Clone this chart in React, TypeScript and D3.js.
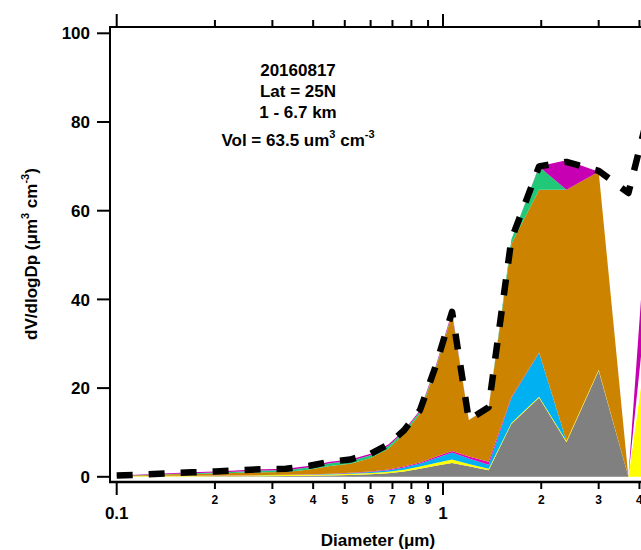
import React from 'react';
import * as d3 from 'd3';

// Particle diameters (µm) of the size-distribution bins
const diameters = [0.1, 0.12, 0.145, 0.17, 0.2, 0.24, 0.28, 0.33, 0.39, 0.45, 0.52, 0.6, 0.68, 0.76, 0.85, 0.95, 1.066, 1.2, 1.38, 1.62, 1.97, 2.39, 3.0, 3.7, 4.4];

// Stacked components dV/dlogDp (µm³ cm⁻³), bottom to top
const grayVals = [0.03, 0.05, 0.06, 0.08, 0.1, 0.12, 0.15, 0.18, 0.22, 0.28, 0.38, 0.55, 0.8, 1.2, 1.8, 2.5, 3.1, 2.4, 1.5, 11.9, 17.8, 7.8, 23.9, 0, 0];
const yellowVals = [0.1, 0.12, 0.15, 0.15, 0.15, 0.18, 0.2, 0.2, 0.22, 0.25, 0.28, 0.3, 0.35, 0.4, 0.5, 0.6, 0.8, 0.5, 0.3, 0.25, 0.25, 0.25, 0.25, 0, 40];
const blueVals = [0, 0, 0, 0, 0, 0.02, 0.03, 0.05, 0.07, 0.1, 0.15, 0.25, 0.35, 0.5, 0.7, 1.1, 1.6, 1.2, 0.9, 5.6, 9.9, 0, 0, 0, 0];
const magentaLowVals = [0, 0, 0, 0, 0.02, 0.03, 0.05, 0.05, 0.06, 0.08, 0.1, 0.12, 0.15, 0.2, 0.25, 0.3, 0.3, 0.5, 0.7, 0.2, 0.1, 0, 0, 0, 0];
const orangeVals = [0.1, 0.18, 0.34, 0.42, 0.48, 0.55, 0.62, 0.62, 1.08, 1.74, 2.04, 3.03, 4.7, 7.4, 11.05, 19.9, 30.8, 8.2, 12.1, 34.55, 36.65, 56.65, 44.65, 0, 0];
const greenVals = [0, 0.05, 0.1, 0.15, 0.2, 0.3, 0.35, 0.4, 0.5, 0.6, 0.6, 0.6, 0.6, 0.5, 0.4, 0.3, 0.2, 0, 0.1, 1.0, 5.2, 0, 0, 0, 0];
const unresolvedVals = [0, 0, 0, 0, 0, 0, 0, 0, 0, 0, 0, 0, 0, 0, 0, 0, 0, 0, 0, 0, 0, 0, 0, 0, 13];
const magentaTopVals = [0.07, 0.1, 0.15, 0.2, 0.25, 0.3, 0.3, 0.3, 0.35, 0.35, 0.35, 0.35, 0.35, 0.3, 0.3, 0.3, 0.4, 0, 0.1, 0, 0.1, 6.7, 0, 0, 25];

// Total volume distribution (dashed line)
const totalVals = [0.3, 0.5, 0.8, 1.0, 1.2, 1.5, 1.7, 1.8, 2.5, 3.4, 3.9, 5.2, 7.3, 10.5, 15, 25, 37.2, 12.8, 15.7, 53.5, 70, 71, 69, 64, 86];

const layerKeys = ['gray', 'yellow', 'blue', 'magentaLow', 'orange', 'green', 'unresolved', 'magentaTop'];
const layerValues = [grayVals, yellowVals, blueVals, magentaLowVals, orangeVals, greenVals, unresolvedVals, magentaTopVals];
const layerColors = ['#808080', '#FFFF00', '#00B0F0', '#DD00BB', '#CC8400', '#20C878', '#FFFFFF', '#C800B4'];

const yTicks = [0, 20, 40, 60, 80, 100];
const xMajorTicks = [0.1, 1];
const xMajorLabels = ['0.1', '1'];
const xMinorTicks = [0.2, 0.3, 0.4, 0.5, 0.6, 0.7, 0.8, 0.9, 2, 3, 4];
const xMinorLabels = ['2', '3', '4', '5', '6', '7', '8', '9', '2', '3', '4'];

const W = 641;
const H = 550;
const L = 110, R = 641, T = 27, B = 482;
const FONT = 'Liberation Sans, Arial, Helvetica, sans-serif';

export default function App() {
  const x = d3.scaleLog().domain([0.1, 10]).range([116.7, 769.3]);
  const y = d3.scaleLinear().domain([0, 100]).range([476.8, 33.3]);

  const table = diameters.map((d, i) => {
    const row: any = { d };
    layerKeys.forEach((k, j) => { row[k] = layerValues[j][i]; });
    return row;
  });
  const stacked = d3.stack<any>().keys(layerKeys)(table);
  const area = d3.area<any>()
    .x((p: any) => x(p.data.d))
    .y0((p: any) => y(p[0]))
    .y1((p: any) => y(p[1]));
  const line = d3.line<number>()
    .x((_, i) => x(diameters[i]))
    .y((v) => y(v));

  return (
    <svg width={W} height={H} style={{ position: 'absolute', left: 0, top: 0, background: '#fff' }}
      fontFamily={FONT} fontWeight="bold">
      <defs>
        <clipPath id="plotClip">
          <rect x={L} y={T} width={R - L + 50} height={B - T} />
        </clipPath>
      </defs>
      <rect x={0} y={0} width={W} height={H} fill="#fff" />
      <g clipPath="url(#plotClip)">
        {stacked.map((s, i) => (
          <path key={layerKeys[i]} d={area(s as any) || ''} fill={layerColors[i]} stroke="none" />
        ))}
        <path d={line(totalVals) || ''} fill="none" stroke="#000" strokeWidth={6.5}
          strokeDasharray="16,16" strokeLinejoin="round" />
      </g>

      {/* frame */}
      <line x1={L} x2={L} y1={T - 1} y2={B + 1} stroke="#000" strokeWidth={2} />
      <line x1={L - 1} x2={W + 5} y1={B} y2={B} stroke="#000" strokeWidth={2.5} />
      <line x1={L - 1} x2={W + 5} y1={T} y2={T} stroke="#000" strokeWidth={2} />

      {/* y axis */}
      {yTicks.map((t) => (
        <g key={'y' + t}>
          <line x1={L - 13} x2={L} y1={y(t)} y2={y(t)} stroke="#000" strokeWidth={2} />
          <text x={90} y={y(t)} dy="0.36em" textAnchor="end" fontSize={17}>{t}</text>
        </g>
      ))}

      {/* bottom and top x axes */}
      {xMajorTicks.map((t, i) => (
        <g key={'xM' + t}>
          <line x1={x(t)} x2={x(t)} y1={B} y2={B + 13} stroke="#000" strokeWidth={2} />
          <text x={x(t)} y={519} textAnchor="middle" fontSize={17}>{xMajorLabels[i]}</text>
          <line x1={x(t)} x2={x(t)} y1={T} y2={T - 13} stroke="#000" strokeWidth={2} />
        </g>
      ))}
      {xMinorTicks.map((t, i) => (
        <g key={'xm' + t}>
          <line x1={x(t)} x2={x(t)} y1={B} y2={B + 7} stroke="#000" strokeWidth={2} />
          <text x={x(t)} y={503.5} textAnchor="middle" fontSize={12}>{xMinorLabels[i]}</text>
          <line x1={x(t)} x2={x(t)} y1={T} y2={T - 7} stroke="#000" strokeWidth={2} />
        </g>
      ))}

      {/* axis titles */}
      <text x={378} y={546} textAnchor="middle" fontSize={17}>Diameter (μm)</text>
      <text transform="translate(37,254) rotate(-90)" textAnchor="middle" fontSize={17}>
        dV/dlogDp (μm<tspan dy={-8} fontSize={11}>3</tspan><tspan dy={8}> cm</tspan><tspan dy={-8} fontSize={11}>-3</tspan><tspan dy={8}>)</tspan>
      </text>

      {/* annotation */}
      <g fontSize={17} textAnchor="middle">
        <text x={298} y={76}>20160817</text>
        <text x={298} y={96.5}>Lat = 25N</text>
        <text x={298} y={118}>1 - 6.7 km</text>
        <text x={298} y={145.5}>Vol = 63.5 um<tspan dy={-8} fontSize={11}>3</tspan><tspan dy={8}> cm</tspan><tspan dy={-8} fontSize={11}>-3</tspan></text>
      </g>
    </svg>
  );
}
